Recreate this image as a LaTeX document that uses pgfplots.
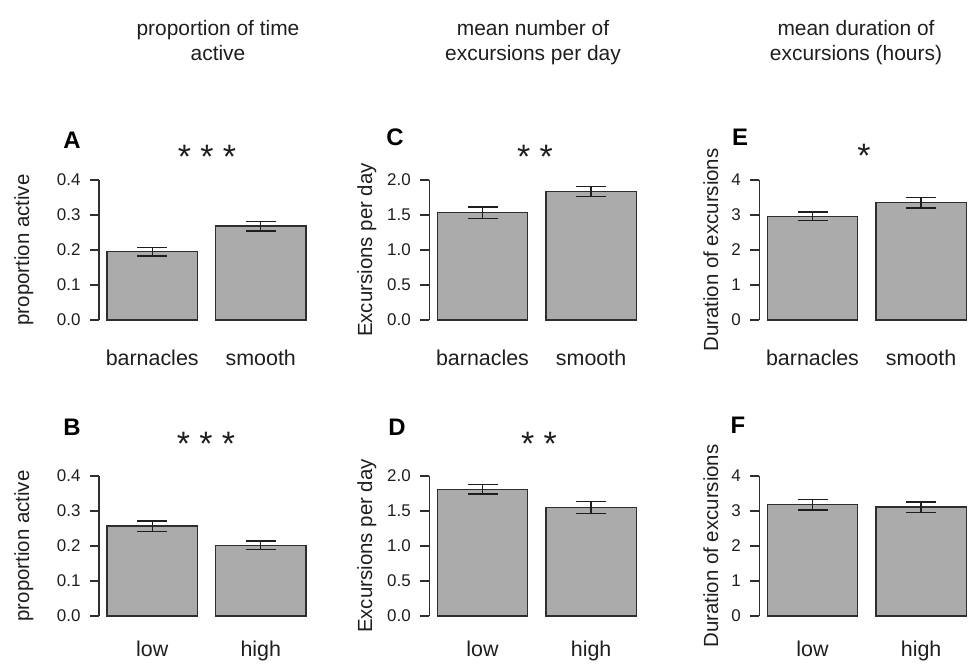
\documentclass[border=0pt]{standalone}
\usepackage{fontspec}
\setmainfont{Liberation Sans}
\usepackage{pgfplots}
\pgfplotsset{compat=1.18}
\definecolor{barfill}{HTML}{ABABAB}
\definecolor{baredge}{HTML}{2E2E2E}
\definecolor{axcol}{HTML}{2E2E2E}
\definecolor{txt}{HTML}{1E1E1E}
\pgfplotsset{
 panel/.style={
  scale only axis, width=215bp, height=140bp,
  xmin=0.112, xmax=2.488, ymin=0,
  axis x line*=bottom, axis y line*=left,
  x axis line style={draw=none},
  y axis line style={draw=axcol, line width=1.4bp},
  xtick={0.7,1.9},
  xtick style={draw=none},
  ytick style={draw=axcol, line width=1.4bp},
  tick align=outside,
  major tick length=9bp,
  yticklabel style={font=\fontsize{17}{19}\selectfont, text=txt, xshift=-6bp},
  xticklabel style={font=\fontsize{21.5}{24}\selectfont, text=txt, anchor=base},
  ylabel style={font=\fontsize{20.5}{23}\selectfont, text=txt, anchor=center},
  ybar, bar width=1, bar shift=0pt,
  clip=false,
 },
 barstyle/.style={fill=barfill, draw=baredge, line width=1.4bp,
   error bars/.cd, y dir=both, y explicit,
   error bar style={line width=1.4bp, draw=txt},
   error mark options={rotate=90, line width=1.4bp, mark size=15bp, draw=txt}},
}
\begin{document}
\begin{tikzpicture}
\useasboundingbox (0,0) rectangle (968bp,664bp);
% headers
\tikzset{hdr/.style={font=\fontsize{21}{24}\selectfont, text=txt, anchor=base, inner sep=0pt}}
\node[hdr] at (218bp,628bp) {proportion of time};
\node[hdr] at (218bp,603bp) {active};
\node[hdr] at (533bp,628bp) {mean number of};
\node[hdr] at (533bp,603bp) {excursions per day};
\node[hdr] at (856bp,628bp) {mean duration of};
\node[hdr] at (856bp,603bp) {excursions (hours)};
% panel letters
\tikzset{let/.style={font=\bfseries\fontsize{24}{26}\selectfont, text=black, inner sep=0pt}}
\node[let] at (72bp,524bp) {A};
\node[let] at (395bp,527bp) {C};
\node[let] at (740bp,527bp) {E};
\node[let] at (72bp,237bp) {B};
\node[let] at (397bp,237bp) {D};
\node[let] at (738bp,239bp) {F};
% significance stars
\tikzset{star/.style={font=\fontsize{34}{36}\selectfont, text=txt, anchor=base, inner sep=0pt}}
\node[star] at (207bp,495.5bp) {* * *};
\node[star] at (535bp,495.5bp) {* *};
\node[star] at (864bp,496.5bp) {*};
\node[star] at (206bp,208.5bp) {* * *};
\node[star] at (539bp,208.5bp) {* *};

% A
\begin{axis}[panel, at={(99bp,344bp)}, anchor=south west, ymax=0.4,
  ytick={0,0.1,0.2,0.3,0.4}, yticklabels={0.0,0.1,0.2,0.3,0.4},
  xticklabels={barnacles,smooth}, ylabel={proportion active},
  ylabel style={at={(axis description cs:-0.349,0.5)}},
  xticklabel style={yshift=-37bp}]
\addplot[barstyle] coordinates {(0.7,0.195) +- (0,0.012) (1.9,0.268) +- (0,0.014)};
\end{axis}
% C
\begin{axis}[panel, at={(429.3bp,344bp)}, anchor=south west, ymax=2.0,
  ytick={0,0.5,1,1.5,2}, yticklabels={0.0,0.5,1.0,1.5,2.0},
  xticklabels={barnacles,smooth}, ylabel={Excursions per day},
  ylabel style={at={(axis description cs:-0.29,0.5)}},
  xticklabel style={yshift=-37bp}]
\addplot[barstyle] coordinates {(0.7,1.533) +- (0,0.08) (1.9,1.838) +- (0,0.07)};
\end{axis}
% E
\begin{axis}[panel, at={(759.3bp,344bp)}, anchor=south west, ymax=4,
  ytick={0,1,2,3,4}, yticklabels={0,1,2,3,4},
  xticklabels={barnacles,smooth}, ylabel={Duration of excursions},
  ylabel style={at={(axis description cs:-0.225,0.5)}},
  xticklabel style={yshift=-37bp}]
\addplot[barstyle] coordinates {(0.7,2.96) +- (0,0.12) (1.9,3.35) +- (0,0.15)};
\end{axis}
% B
\begin{axis}[panel, at={(99bp,48bp)}, anchor=south west, ymax=0.4,
  ytick={0,0.1,0.2,0.3,0.4}, yticklabels={0.0,0.1,0.2,0.3,0.4},
  xticklabels={low,high}, ylabel={proportion active},
  ylabel style={at={(axis description cs:-0.349,0.5)}},
  xticklabel style={yshift=-31bp}]
\addplot[barstyle] coordinates {(0.7,0.257) +- (0,0.015) (1.9,0.202) +- (0,0.012)};
\end{axis}
% D
\begin{axis}[panel, at={(429.3bp,48bp)}, anchor=south west, ymax=2.0,
  ytick={0,0.5,1,1.5,2}, yticklabels={0.0,0.5,1.0,1.5,2.0},
  xticklabels={low,high}, ylabel={Excursions per day},
  ylabel style={at={(axis description cs:-0.29,0.5)}},
  xticklabel style={yshift=-31bp}]
\addplot[barstyle] coordinates {(0.7,1.81) +- (0,0.07) (1.9,1.55) +- (0,0.085)};
\end{axis}
% F
\begin{axis}[panel, at={(759.3bp,48bp)}, anchor=south west, ymax=4,
  ytick={0,1,2,3,4}, yticklabels={0,1,2,3,4},
  xticklabels={low,high}, ylabel={Duration of excursions},
  ylabel style={at={(axis description cs:-0.225,0.5)}},
  xticklabel style={yshift=-31bp}]
\addplot[barstyle] coordinates {(0.7,3.18) +- (0,0.15) (1.9,3.11) +- (0,0.15)};
\end{axis}
\end{tikzpicture}
\end{document}
